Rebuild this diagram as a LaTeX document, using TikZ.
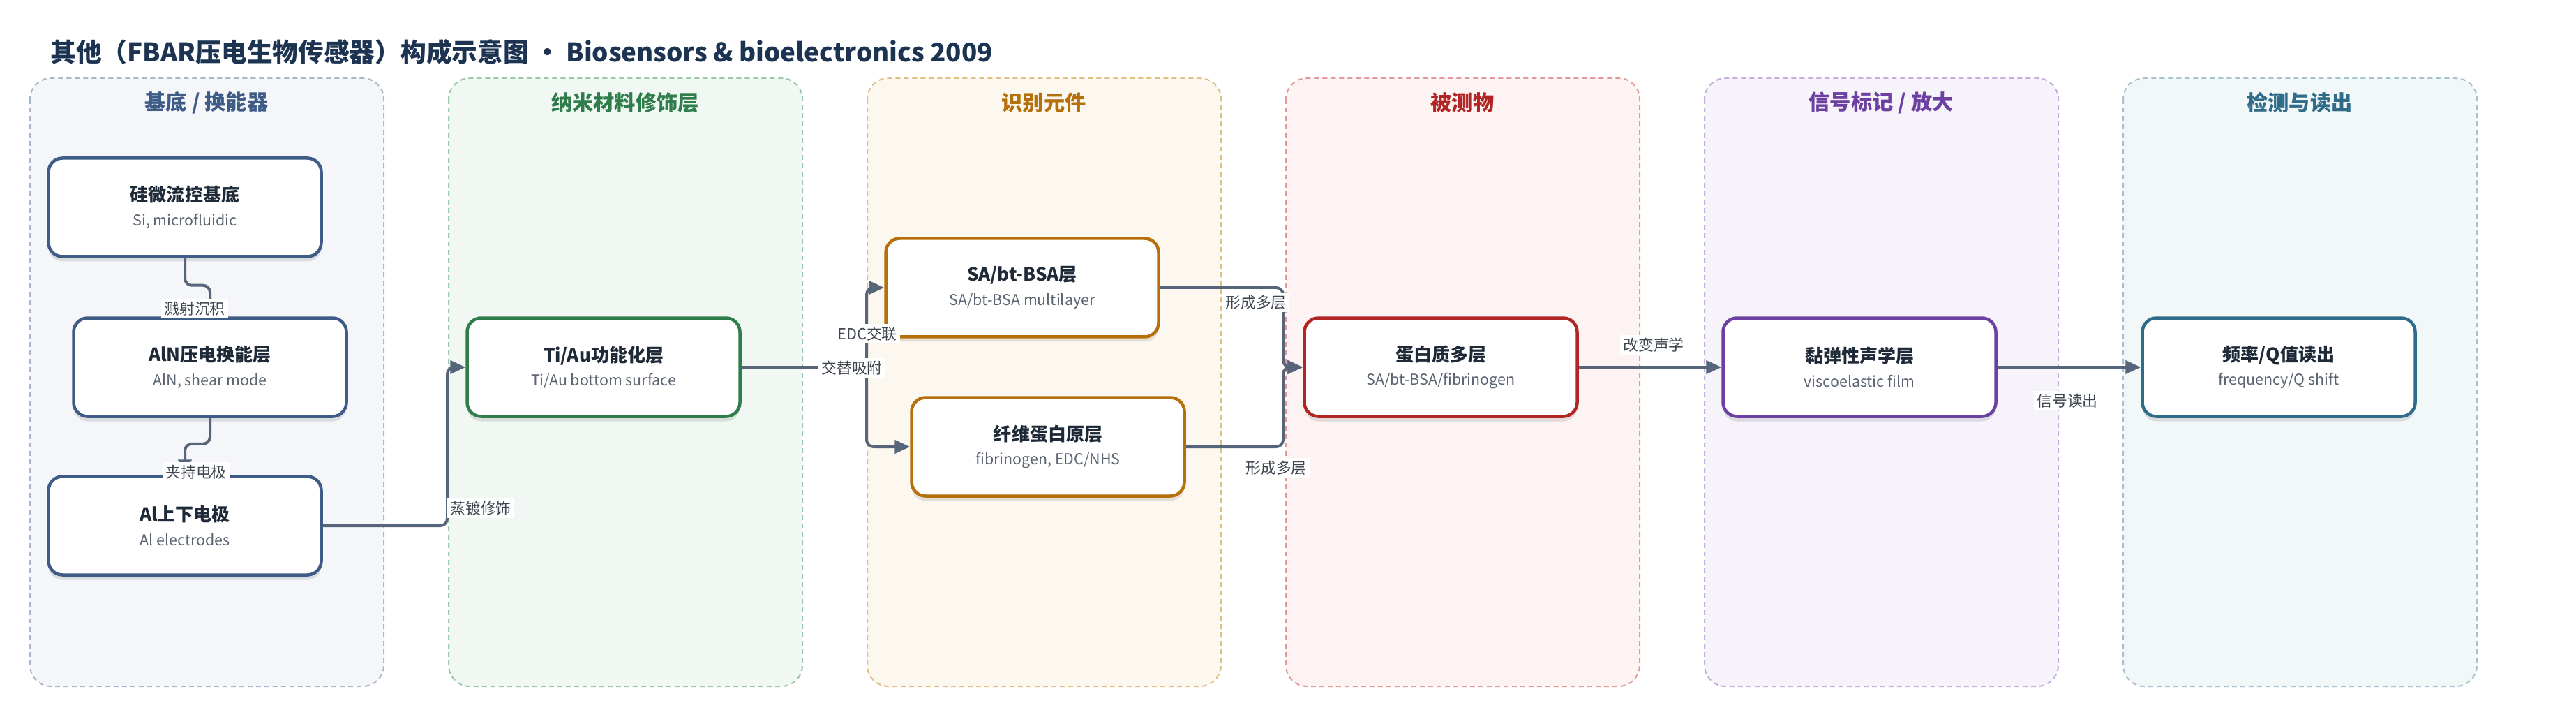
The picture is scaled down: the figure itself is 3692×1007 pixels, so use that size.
\documentclass[tikz,border=0pt]{standalone}
\usepackage{fontspec}
\setmainfont{Noto Sans CJK SC}
\usetikzlibrary{arrows.meta,shadows}

\definecolor{titleink}{HTML}{1D3352}
\definecolor{ink}{HTML}{1E2A38}
\definecolor{subink}{HTML}{5B6472}
\definecolor{lblink}{HTML}{3E4550}
\definecolor{wire}{HTML}{56657A}
% lane colours: line, fill, dash
\definecolor{cA}{HTML}{3E5C86}\definecolor{cAf}{HTML}{F4F6FA}\definecolor{cAd}{HTML}{A9B6CC}
\definecolor{cB}{HTML}{2E7D4A}\definecolor{cBf}{HTML}{F1F8F3}\definecolor{cBd}{HTML}{9CC8AA}
\definecolor{cC}{HTML}{B5700C}\definecolor{cCf}{HTML}{FDF8EF}\definecolor{cCd}{HTML}{E2BE85}
\definecolor{cD}{HTML}{B22525}\definecolor{cDf}{HTML}{FDF3F2}\definecolor{cDd}{HTML}{E29A98}
\definecolor{cE}{HTML}{6B40A0}\definecolor{cEf}{HTML}{F6F3FB}\definecolor{cEd}{HTML}{C3AEDD}
\definecolor{cF}{HTML}{2F6C8A}\definecolor{cFf}{HTML}{F2F7F8}\definecolor{cFd}{HTML}{A6C2CF}

\newcommand{\boxtext}[2]{% title, subtitle
{\fontsize{7.4}{9}\selectfont\bfseries\color{ink}#1}\\[-2.2pt]{\fontsize{6.1}{7.5}\selectfont\color{subink}#2}}

\begin{document}
\begin{tikzpicture}[x=0.1mm,y=-0.1mm,
  lane/.style 2 args={draw=#1,fill=#2,line width=0.2mm,dash pattern=on 0.7mm off 0.5mm,rounded corners=3mm},
  lanetitle/.style={font=\fontsize{8.6}{10}\selectfont\bfseries,text=#1},
  box/.style={draw=#1,fill=white,line width=0.45mm,rounded corners=2mm,minimum width=39.1mm,minimum height=14.1mm,align=center,
    drop shadow={shadow xshift=0mm,shadow yshift=-0.7mm,fill=black,opacity=0.10}},
  conn/.style={draw=wire,line width=0.4mm,rounded corners=1mm,-{Triangle[length=2.2mm,width=1.9mm]}},
  lbl/.style={fill=white,inner sep=1.2pt,font=\fontsize{6.2}{7}\selectfont,text=lblink}
]
\useasboundingbox (0,0) rectangle (3692,1007);

%title
\node[anchor=west,font=\fontsize{10.45}{12}\selectfont\bfseries,text=titleink] (title) at (60,75)
  {其他（FBAR压电生物传感器）构成示意图 · Biosensors \& bioelectronics 2009};

%lanes
\draw[lane={cAd}{cAf}] (43,112) rectangle (550,983);
\draw[lane={cBd}{cBf}] (643,112) rectangle (1150,983);
\draw[lane={cCd}{cCf}] (1243,112) rectangle (1750,983);
\draw[lane={cDd}{cDf}] (1843,112) rectangle (2350,983);
\draw[lane={cEd}{cEf}] (2443,112) rectangle (2950,983);
\draw[lane={cFd}{cFf}] (3043,112) rectangle (3550,983);
\node[lanetitle=cA] (tA) at (296,147) {基底 / 换能器};
\node[lanetitle=cB] (tB) at (896,147) {纳米材料修饰层};
\node[lanetitle=cC] (tC) at (1496,147) {识别元件};
\node[lanetitle=cD] (tD) at (2096,147) {被测物};
\node[lanetitle=cE] (tE) at (2696,147) {信号标记 / 放大};
\node[lanetitle=cF] (tF) at (3296,147) {检测与读出};

%substrate / transducer
\node[box=cA] (sub) at (265,297) {\boxtext{硅微流控基底}{Si, microfluidic}};
\node[box=cA] (aln) at (301,526) {\boxtext{AlN压电换能层}{AlN, shear mode}};
\node[box=cA] (al) at (265,753) {\boxtext{Al上下电极}{Al electrodes}};
%nano layer
\node[box=cB] (tiau) at (865,526) {\boxtext{Ti/Au功能化层}{Ti/Au bottom surface}};
%recognition
\node[box=cC] (sa) at (1465,412) {\boxtext{SA/bt-BSA层}{SA/bt-BSA multilayer}};
\node[box=cC] (fib) at (1502,640) {\boxtext{纤维蛋白原层}{fibrinogen, EDC/NHS}};
%analyte
\node[box=cD] (prot) at (2065,526) {\boxtext{蛋白质多层}{SA/bt-BSA/fibrinogen}};
%label
\node[box=cE] (visco) at (2665,526) {\boxtext{黏弹性声学层}{viscoelastic film}};
%readout
\node[box=cF] (freq) at (3266,526) {\boxtext{频率/Q值读出}{frequency/Q shift}};

%bends
\coordinate (j0) at (641,0);
\coordinate (j1) at (1242,0);
\coordinate (j2) at (1839,0);

%connectors
\draw[conn] (sub.south) -- ++(0,39) -| (aln.north);
\draw[conn] (aln.south) -- ++(0,37) -| (al.north);
\draw[conn] (al.east) -- (al.east -| j0) |- (tiau.west);
\draw[conn] (tiau.east) -- (tiau.east -| j1) |- (sa.west);
\draw[conn] (tiau.east) -- (tiau.east -| j1) |- (fib.west);
\draw[conn] (sa.east) -- (sa.east -| j2) |- (prot.west);
\draw[conn] (fib.east) -- (fib.east -| j2) |- (prot.west);
\draw[conn] (prot) -- (visco);
\draw[conn] (visco) -- (freq);

%connector labels
\node[lbl] (l1) at (279,442) {溅射沉积};
\node[lbl] (l2) at (281,676) {夹持电极};
\node[lbl] (l3) at (689,728) {蒸镀修饰};
\node[lbl] (l4) at (1221,527) {交替吸附};
\node[lbl] (l5) at (1243,478) {EDC交联};
\node[lbl] (l6) at (1800,433) {形成多层};
\node[lbl] (l7) at (1829,670) {形成多层};
\node[lbl] (l8) at (2370,494) {改变声学};
\node[lbl] (l9) at (2963,574) {信号读出};

\end{tikzpicture}
\end{document}
